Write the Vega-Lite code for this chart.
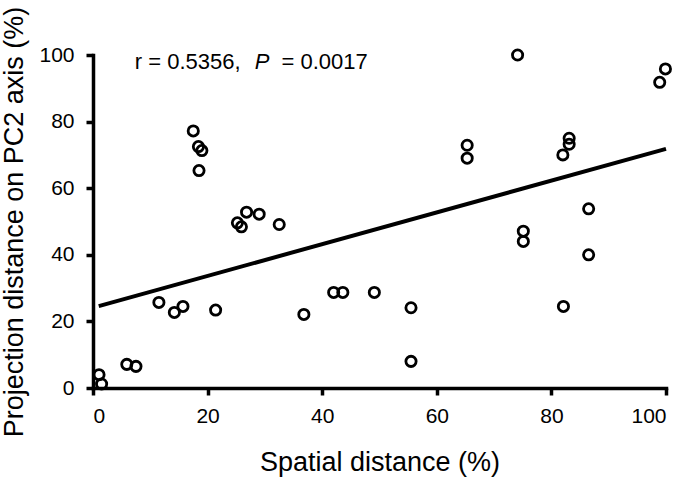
{
  "$schema": "https://vega.github.io/schema/vega-lite/v6.json",
  "autosize": "none",
  "width": 573,
  "height": 333,
  "padding": {"left": 93, "top": 55, "right": 19, "bottom": 89},
  "background": "white",
  "config": {
    "view": {"stroke": null},
    "font": "Liberation Sans",
    "axis": {
      "domainColor": "black", "domainWidth": 3.5, "domainCap": "square",
      "tickColor": "black", "tickWidth": 3.5, "tickSize": 7,
      "grid": false,
      "labelFont": "Liberation Sans", "labelFontSize": 21, "labelColor": "black",
      "titleFont": "Liberation Sans", "titleFontWeight": "normal", "titleColor": "black"
    }
  },
  "datasets": {
    "pts": [
      {"sd": 1.05, "pd": 4.0}, {"sd": 1.5, "pd": 1.2}, {"sd": 5.9, "pd": 7.1}, {"sd": 7.5, "pd": 6.5},
      {"sd": 11.5, "pd": 25.7}, {"sd": 14.2, "pd": 22.7}, {"sd": 15.7, "pd": 24.5}, {"sd": 21.4, "pd": 23.4},
      {"sd": 36.8, "pd": 22.1}, {"sd": 42.0, "pd": 28.7}, {"sd": 43.6, "pd": 28.7}, {"sd": 49.1, "pd": 28.7},
      {"sd": 55.5, "pd": 24.1}, {"sd": 55.5, "pd": 8.0}, {"sd": 75.1, "pd": 47.1}, {"sd": 75.1, "pd": 44.0},
      {"sd": 86.5, "pd": 40.0}, {"sd": 82.1, "pd": 24.5}, {"sd": 17.5, "pd": 77.2}, {"sd": 18.4, "pd": 72.5},
      {"sd": 19.0, "pd": 71.3}, {"sd": 18.5, "pd": 65.3}, {"sd": 26.8, "pd": 52.8}, {"sd": 29.0, "pd": 52.2},
      {"sd": 25.2, "pd": 49.6}, {"sd": 25.9, "pd": 48.4}, {"sd": 32.5, "pd": 49.1}, {"sd": 74.1, "pd": 100},
      {"sd": 99.9, "pd": 95.8}, {"sd": 98.9, "pd": 91.8}, {"sd": 65.3, "pd": 72.9}, {"sd": 65.3, "pd": 69.0},
      {"sd": 83.1, "pd": 75.0}, {"sd": 83.1, "pd": 73.2}, {"sd": 82.0, "pd": 70.0}, {"sd": 86.5, "pd": 53.8}
    ],
    "fit": [{"sd": 1.0, "pd": 24.6}, {"sd": 100, "pd": 71.8}],
    "ann1": [
      {"sd": 7.3, "pd": 95.8, "t": "r = 0.5356,"},
      {"sd": 32.9, "pd": 95.8, "t": "= 0.0017"}
    ],
    "ann2": [
      {"sd": 28.25, "pd": 95.8, "t": "P"}
    ]
  },
  "encoding": {
    "x": {"field": "sd", "type": "quantitative",
      "scale": {"domain": [0, 100], "nice": false, "zero": false},
      "axis": {"values": [0, 20, 40, 60, 80, 100], "title": "Spatial distance (%)", "titleFontSize": 27,
        "labelPadding": 10, "titleBaseline": "alphabetic", "titleY": 82}},
    "y": {"field": "pd", "type": "quantitative",
      "scale": {"domain": [0, 100], "nice": false, "zero": false},
      "axis": {"values": [0, 20, 40, 60, 80, 100], "title": "Projection distance on PC2 axis (%)", "titleFontSize": 27,
        "labelPadding": 12, "titleBaseline": "alphabetic", "titleX": -71}}
  },
  "layer": [
    {
      "data": {"name": "fit"},
      "mark": {"type": "line", "color": "black", "strokeWidth": 4, "clip": false},
      "encoding": {}
    },
    {
      "data": {"name": "pts"},
      "mark": {"type": "point", "shape": "circle", "filled": false, "color": "black", "strokeWidth": 2.8, "size": 105, "opacity": 1, "clip": false},
      "encoding": {}
    },
    {
      "data": {"name": "ann1"},
      "mark": {"type": "text", "align": "left", "baseline": "alphabetic", "fontSize": 22, "color": "black", "font": "Liberation Sans"},
      "encoding": {"text": {"field": "t"}}
    },
    {
      "data": {"name": "ann2"},
      "mark": {"type": "text", "align": "left", "baseline": "alphabetic", "fontSize": 22, "fontStyle": "italic", "color": "black", "font": "Liberation Sans"},
      "encoding": {"text": {"field": "t"}}
    }
  ]
}
